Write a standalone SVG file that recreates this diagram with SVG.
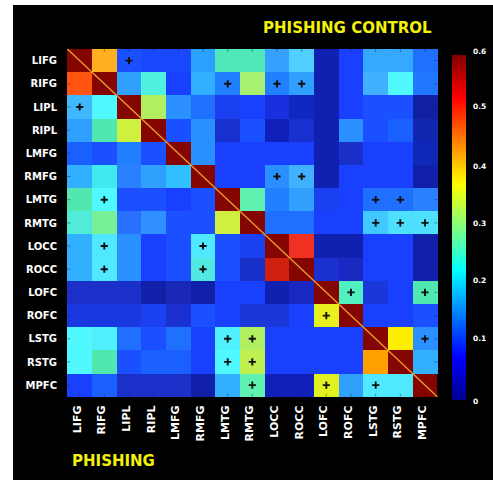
<svg xmlns="http://www.w3.org/2000/svg" xmlns:xlink="http://www.w3.org/1999/xlink" width="493" height="480" viewBox="0 0 493 480">
  <style>
    .lbl { font-family: "DejaVu Sans", "Liberation Sans", sans-serif; font-weight: bold; fill: #ffffff; }
    .row { font-size: 10px; text-anchor: end; }
    .col { font-size: 11px; text-anchor: end; }
    .cb  { font-size: 7.5px; }
    .title { font-family: "DejaVu Sans", "Liberation Sans", sans-serif; font-weight: bold; font-size: 15px; fill: #f2f20a; }
    .cells rect { shape-rendering: crispEdges; }
    .tick { stroke: #202020; stroke-width: 0.8; opacity: 0.55; }
  </style>
  <defs>
    <linearGradient id="jet" x1="0" y1="1" x2="0" y2="0">
      <stop offset="0" stop-color="#00008f"/>
      <stop offset="0.125" stop-color="#0000ff"/>
      <stop offset="0.375" stop-color="#00ffff"/>
      <stop offset="0.625" stop-color="#ffff00"/>
      <stop offset="0.875" stop-color="#ff0000"/>
      <stop offset="1" stop-color="#800000"/>
    </linearGradient>
    <path id="plus" d="M-3.6 0H3.6M0 -3.6V3.6" stroke="#101010" stroke-width="1.9" fill="none"/>
  </defs>

  <rect x="0" y="0" width="493" height="480" fill="#ffffff"/>
  <rect x="13" y="5" width="480" height="475" fill="#000000"/>

  <text class="title" x="263" y="33">PHISHING CONTROL</text>
  <text class="title" x="72" y="466">PHISHING</text>

  <!-- correlation matrix, one unit per cell -->
  <g id="matrix" class="cells" transform="translate(67.33,49) scale(24.667,23.18)">
    <!-- LIFG -->
    <rect x="0" y="0" width="1.02" height="1.02" fill="#850500"/>
    <rect x="1" y="0" width="1.02" height="1.02" fill="#ffb020"/>
    <rect x="2" y="0" width="1.02" height="1.02" fill="#1a50ff"/>
    <rect x="3" y="0" width="1.02" height="1.02" fill="#1a48ff"/>
    <rect x="4" y="0" width="1.02" height="1.02" fill="#1a48ff"/>
    <rect x="5" y="0" width="1.02" height="1.02" fill="#2aa0ff"/>
    <rect x="6" y="0" width="1.02" height="1.02" fill="#50e8b8"/>
    <rect x="7" y="0" width="1.02" height="1.02" fill="#50e8b8"/>
    <rect x="8" y="0" width="1.02" height="1.02" fill="#35a0ff"/>
    <rect x="9" y="0" width="1.02" height="1.02" fill="#50d0ff"/>
    <rect x="10" y="0" width="1.02" height="1.02" fill="#1020b0"/>
    <rect x="11" y="0" width="1.02" height="1.02" fill="#1a40ff"/>
    <rect x="12" y="0" width="1.02" height="1.02" fill="#35a8ff"/>
    <rect x="13" y="0" width="1.02" height="1.02" fill="#35a8ff"/>
    <rect x="14" y="0" width="1.02" height="1.02" fill="#2070ff"/>
    <!-- RIFG -->
    <rect x="0" y="1" width="1.02" height="1.02" fill="#ff5510"/>
    <rect x="1" y="1" width="1.02" height="1.02" fill="#850500"/>
    <rect x="2" y="1" width="1.02" height="1.02" fill="#30a0ff"/>
    <rect x="3" y="1" width="1.02" height="1.02" fill="#50f0e0"/>
    <rect x="4" y="1" width="1.02" height="1.02" fill="#1a40ff"/>
    <rect x="5" y="1" width="1.02" height="1.02" fill="#30b0ff"/>
    <rect x="6" y="1" width="1.02" height="1.02" fill="#2080ff"/>
    <rect x="7" y="1" width="1.02" height="1.02" fill="#a8f070"/>
    <rect x="8" y="1" width="1.02" height="1.02" fill="#2080ff"/>
    <rect x="9" y="1" width="1.02" height="1.02" fill="#30a0ff"/>
    <rect x="10" y="1" width="1.02" height="1.02" fill="#1020b0"/>
    <rect x="11" y="1" width="1.02" height="1.02" fill="#1a40ff"/>
    <rect x="12" y="1" width="1.02" height="1.02" fill="#40b0ff"/>
    <rect x="13" y="1" width="1.02" height="1.02" fill="#50f8ff"/>
    <rect x="14" y="1" width="1.02" height="1.02" fill="#2078ff"/>
    <!-- LIPL -->
    <rect x="0" y="2" width="1.02" height="1.02" fill="#40b8ff"/>
    <rect x="1" y="2" width="1.02" height="1.02" fill="#50f8ff"/>
    <rect x="2" y="2" width="1.02" height="1.02" fill="#850500"/>
    <rect x="3" y="2" width="1.02" height="1.02" fill="#b0f060"/>
    <rect x="4" y="2" width="1.02" height="1.02" fill="#2a90ff"/>
    <rect x="5" y="2" width="1.02" height="1.02" fill="#2070ff"/>
    <rect x="6" y="2" width="1.02" height="1.02" fill="#1a40f0"/>
    <rect x="7" y="2" width="1.02" height="1.02" fill="#1a40ff"/>
    <rect x="8" y="2" width="1.02" height="1.02" fill="#1a30e0"/>
    <rect x="9" y="2" width="1.02" height="1.02" fill="#1028c0"/>
    <rect x="10" y="2" width="1.02" height="1.02" fill="#1020b0"/>
    <rect x="11" y="2" width="1.02" height="1.02" fill="#1a40ff"/>
    <rect x="12" y="2" width="1.02" height="1.02" fill="#1a50ff"/>
    <rect x="13" y="2" width="1.02" height="1.02" fill="#1a50ff"/>
    <rect x="14" y="2" width="1.02" height="1.02" fill="#1020a0"/>
    <!-- RIPL -->
    <rect x="0" y="3" width="1.02" height="1.02" fill="#30a0ff"/>
    <rect x="1" y="3" width="1.02" height="1.02" fill="#50e8b0"/>
    <rect x="2" y="3" width="1.02" height="1.02" fill="#d0f040"/>
    <rect x="3" y="3" width="1.02" height="1.02" fill="#850500"/>
    <rect x="4" y="3" width="1.02" height="1.02" fill="#1a50ff"/>
    <rect x="5" y="3" width="1.02" height="1.02" fill="#2a90ff"/>
    <rect x="6" y="3" width="1.02" height="1.02" fill="#1830d0"/>
    <rect x="7" y="3" width="1.02" height="1.02" fill="#1a50ff"/>
    <rect x="8" y="3" width="1.02" height="1.02" fill="#1020b8"/>
    <rect x="9" y="3" width="1.02" height="1.02" fill="#1830d0"/>
    <rect x="10" y="3" width="1.02" height="1.02" fill="#1020b0"/>
    <rect x="11" y="3" width="1.02" height="1.02" fill="#2a90ff"/>
    <rect x="12" y="3" width="1.02" height="1.02" fill="#1a50ff"/>
    <rect x="13" y="3" width="1.02" height="1.02" fill="#1a60ff"/>
    <rect x="14" y="3" width="1.02" height="1.02" fill="#1028b0"/>
    <!-- LMFG -->
    <rect x="0" y="4" width="1.02" height="1.02" fill="#1a60ff"/>
    <rect x="1" y="4" width="1.02" height="1.02" fill="#1a50ff"/>
    <rect x="2" y="4" width="1.02" height="1.02" fill="#2080ff"/>
    <rect x="3" y="4" width="1.02" height="1.02" fill="#1a50ff"/>
    <rect x="4" y="4" width="1.02" height="1.02" fill="#850500"/>
    <rect x="5" y="4" width="1.02" height="1.02" fill="#2a90ff"/>
    <rect x="6" y="4" width="1.02" height="1.02" fill="#1a40ff"/>
    <rect x="7" y="4" width="1.02" height="1.02" fill="#1a40ff"/>
    <rect x="8" y="4" width="1.02" height="1.02" fill="#1a40ff"/>
    <rect x="9" y="4" width="1.02" height="1.02" fill="#1a40ff"/>
    <rect x="10" y="4" width="1.02" height="1.02" fill="#1020b0"/>
    <rect x="11" y="4" width="1.02" height="1.02" fill="#1830c8"/>
    <rect x="12" y="4" width="1.02" height="1.02" fill="#1a40ff"/>
    <rect x="13" y="4" width="1.02" height="1.02" fill="#1a40ff"/>
    <rect x="14" y="4" width="1.02" height="1.02" fill="#1028b8"/>
    <!-- RMFG -->
    <rect x="0" y="5" width="1.02" height="1.02" fill="#30b0ff"/>
    <rect x="1" y="5" width="1.02" height="1.02" fill="#40e8f0"/>
    <rect x="2" y="5" width="1.02" height="1.02" fill="#2a80ff"/>
    <rect x="3" y="5" width="1.02" height="1.02" fill="#30a0ff"/>
    <rect x="4" y="5" width="1.02" height="1.02" fill="#30c0ff"/>
    <rect x="5" y="5" width="1.02" height="1.02" fill="#850500"/>
    <rect x="6" y="5" width="1.02" height="1.02" fill="#1a40ff"/>
    <rect x="7" y="5" width="1.02" height="1.02" fill="#1a40ff"/>
    <rect x="8" y="5" width="1.02" height="1.02" fill="#2a90ff"/>
    <rect x="9" y="5" width="1.02" height="1.02" fill="#40b0ff"/>
    <rect x="10" y="5" width="1.02" height="1.02" fill="#1020b0"/>
    <rect x="11" y="5" width="1.02" height="1.02" fill="#1a40ff"/>
    <rect x="12" y="5" width="1.02" height="1.02" fill="#1a40ff"/>
    <rect x="13" y="5" width="1.02" height="1.02" fill="#1a40ff"/>
    <rect x="14" y="5" width="1.02" height="1.02" fill="#1020a8"/>
    <!-- LMTG -->
    <rect x="0" y="6" width="1.02" height="1.02" fill="#50e8b0"/>
    <rect x="1" y="6" width="1.02" height="1.02" fill="#50f8ff"/>
    <rect x="2" y="6" width="1.02" height="1.02" fill="#1a50ff"/>
    <rect x="3" y="6" width="1.02" height="1.02" fill="#1a50ff"/>
    <rect x="4" y="6" width="1.02" height="1.02" fill="#1a40ff"/>
    <rect x="5" y="6" width="1.02" height="1.02" fill="#1a50ff"/>
    <rect x="6" y="6" width="1.02" height="1.02" fill="#850500"/>
    <rect x="7" y="6" width="1.02" height="1.02" fill="#60f0b0"/>
    <rect x="8" y="6" width="1.02" height="1.02" fill="#2080ff"/>
    <rect x="9" y="6" width="1.02" height="1.02" fill="#30a0ff"/>
    <rect x="10" y="6" width="1.02" height="1.02" fill="#1a40f0"/>
    <rect x="11" y="6" width="1.02" height="1.02" fill="#1a40ff"/>
    <rect x="12" y="6" width="1.02" height="1.02" fill="#2070ff"/>
    <rect x="13" y="6" width="1.02" height="1.02" fill="#2070ff"/>
    <rect x="14" y="6" width="1.02" height="1.02" fill="#2a80ff"/>
    <!-- RMTG -->
    <rect x="0" y="7" width="1.02" height="1.02" fill="#50ecd8"/>
    <rect x="1" y="7" width="1.02" height="1.02" fill="#78f098"/>
    <rect x="2" y="7" width="1.02" height="1.02" fill="#2a70ff"/>
    <rect x="3" y="7" width="1.02" height="1.02" fill="#3090ff"/>
    <rect x="4" y="7" width="1.02" height="1.02" fill="#1a50ff"/>
    <rect x="5" y="7" width="1.02" height="1.02" fill="#1a50ff"/>
    <rect x="6" y="7" width="1.02" height="1.02" fill="#d0f040"/>
    <rect x="7" y="7" width="1.02" height="1.02" fill="#850500"/>
    <rect x="8" y="7" width="1.02" height="1.02" fill="#2070ff"/>
    <rect x="9" y="7" width="1.02" height="1.02" fill="#2070ff"/>
    <rect x="10" y="7" width="1.02" height="1.02" fill="#1a40ff"/>
    <rect x="11" y="7" width="1.02" height="1.02" fill="#1a40ff"/>
    <rect x="12" y="7" width="1.02" height="1.02" fill="#40c8ff"/>
    <rect x="13" y="7" width="1.02" height="1.02" fill="#50e0ff"/>
    <rect x="14" y="7" width="1.02" height="1.02" fill="#50e0ff"/>
    <!-- LOCC -->
    <rect x="0" y="8" width="1.02" height="1.02" fill="#30b0ff"/>
    <rect x="1" y="8" width="1.02" height="1.02" fill="#50e8ff"/>
    <rect x="2" y="8" width="1.02" height="1.02" fill="#2a90ff"/>
    <rect x="3" y="8" width="1.02" height="1.02" fill="#1a40ff"/>
    <rect x="4" y="8" width="1.02" height="1.02" fill="#1a50ff"/>
    <rect x="5" y="8" width="1.02" height="1.02" fill="#50e8ff"/>
    <rect x="6" y="8" width="1.02" height="1.02" fill="#1a50ff"/>
    <rect x="7" y="8" width="1.02" height="1.02" fill="#1a40f0"/>
    <rect x="8" y="8" width="1.02" height="1.02" fill="#850500"/>
    <rect x="9" y="8" width="1.02" height="1.02" fill="#f03020"/>
    <rect x="10" y="8" width="1.02" height="1.02" fill="#1020b0"/>
    <rect x="11" y="8" width="1.02" height="1.02" fill="#1020b0"/>
    <rect x="12" y="8" width="1.02" height="1.02" fill="#1a40ff"/>
    <rect x="13" y="8" width="1.02" height="1.02" fill="#1a40ff"/>
    <rect x="14" y="8" width="1.02" height="1.02" fill="#1020a8"/>
    <!-- ROCC -->
    <rect x="0" y="9" width="1.02" height="1.02" fill="#30b0ff"/>
    <rect x="1" y="9" width="1.02" height="1.02" fill="#50e8ff"/>
    <rect x="2" y="9" width="1.02" height="1.02" fill="#2a90ff"/>
    <rect x="3" y="9" width="1.02" height="1.02" fill="#1a40ff"/>
    <rect x="4" y="9" width="1.02" height="1.02" fill="#1a50ff"/>
    <rect x="5" y="9" width="1.02" height="1.02" fill="#50e8e0"/>
    <rect x="6" y="9" width="1.02" height="1.02" fill="#1a50ff"/>
    <rect x="7" y="9" width="1.02" height="1.02" fill="#1830c8"/>
    <rect x="8" y="9" width="1.02" height="1.02" fill="#d02010"/>
    <rect x="9" y="9" width="1.02" height="1.02" fill="#850500"/>
    <rect x="10" y="9" width="1.02" height="1.02" fill="#1a30d0"/>
    <rect x="11" y="9" width="1.02" height="1.02" fill="#1828c0"/>
    <rect x="12" y="9" width="1.02" height="1.02" fill="#1a40ff"/>
    <rect x="13" y="9" width="1.02" height="1.02" fill="#1a40ff"/>
    <rect x="14" y="9" width="1.02" height="1.02" fill="#1020a8"/>
    <!-- LOFC -->
    <rect x="0" y="10" width="1.02" height="1.02" fill="#1a30c8"/>
    <rect x="1" y="10" width="1.02" height="1.02" fill="#1a30c8"/>
    <rect x="2" y="10" width="1.02" height="1.02" fill="#1a30c8"/>
    <rect x="3" y="10" width="1.02" height="1.02" fill="#1020a8"/>
    <rect x="4" y="10" width="1.02" height="1.02" fill="#1a28b8"/>
    <rect x="5" y="10" width="1.02" height="1.02" fill="#1020a8"/>
    <rect x="6" y="10" width="1.02" height="1.02" fill="#1a40ff"/>
    <rect x="7" y="10" width="1.02" height="1.02" fill="#1a40ff"/>
    <rect x="8" y="10" width="1.02" height="1.02" fill="#1020b0"/>
    <rect x="9" y="10" width="1.02" height="1.02" fill="#1828c0"/>
    <rect x="10" y="10" width="1.02" height="1.02" fill="#850500"/>
    <rect x="11" y="10" width="1.02" height="1.02" fill="#50f0c0"/>
    <rect x="12" y="10" width="1.02" height="1.02" fill="#1a38d8"/>
    <rect x="13" y="10" width="1.02" height="1.02" fill="#1a40ff"/>
    <rect x="14" y="10" width="1.02" height="1.02" fill="#50e8b0"/>
    <!-- ROFC -->
    <rect x="0" y="11" width="1.02" height="1.02" fill="#1a38e0"/>
    <rect x="1" y="11" width="1.02" height="1.02" fill="#1a38e0"/>
    <rect x="2" y="11" width="1.02" height="1.02" fill="#1a38e0"/>
    <rect x="3" y="11" width="1.02" height="1.02" fill="#1a40f0"/>
    <rect x="4" y="11" width="1.02" height="1.02" fill="#1a30d0"/>
    <rect x="5" y="11" width="1.02" height="1.02" fill="#1a50ff"/>
    <rect x="6" y="11" width="1.02" height="1.02" fill="#1a40ff"/>
    <rect x="7" y="11" width="1.02" height="1.02" fill="#1a38d8"/>
    <rect x="8" y="11" width="1.02" height="1.02" fill="#1a38d8"/>
    <rect x="9" y="11" width="1.02" height="1.02" fill="#1a40ff"/>
    <rect x="10" y="11" width="1.02" height="1.02" fill="#e8f020"/>
    <rect x="11" y="11" width="1.02" height="1.02" fill="#850500"/>
    <rect x="12" y="11" width="1.02" height="1.02" fill="#1a40ff"/>
    <rect x="13" y="11" width="1.02" height="1.02" fill="#1a40ff"/>
    <rect x="14" y="11" width="1.02" height="1.02" fill="#1a50ff"/>
    <!-- LSTG -->
    <rect x="0" y="12" width="1.02" height="1.02" fill="#50f8ff"/>
    <rect x="1" y="12" width="1.02" height="1.02" fill="#50f0ff"/>
    <rect x="2" y="12" width="1.02" height="1.02" fill="#2070ff"/>
    <rect x="3" y="12" width="1.02" height="1.02" fill="#1a50ff"/>
    <rect x="4" y="12" width="1.02" height="1.02" fill="#2070ff"/>
    <rect x="5" y="12" width="1.02" height="1.02" fill="#1a40ff"/>
    <rect x="6" y="12" width="1.02" height="1.02" fill="#50f0ff"/>
    <rect x="7" y="12" width="1.02" height="1.02" fill="#b0f060"/>
    <rect x="8" y="12" width="1.02" height="1.02" fill="#1a40ff"/>
    <rect x="9" y="12" width="1.02" height="1.02" fill="#1a40ff"/>
    <rect x="10" y="12" width="1.02" height="1.02" fill="#1a40ff"/>
    <rect x="11" y="12" width="1.02" height="1.02" fill="#1a40ff"/>
    <rect x="12" y="12" width="1.02" height="1.02" fill="#850500"/>
    <rect x="13" y="12" width="1.02" height="1.02" fill="#ffee00"/>
    <rect x="14" y="12" width="1.02" height="1.02" fill="#2a90ff"/>
    <!-- RSTG -->
    <rect x="0" y="13" width="1.02" height="1.02" fill="#50f8ff"/>
    <rect x="1" y="13" width="1.02" height="1.02" fill="#50e8b0"/>
    <rect x="2" y="13" width="1.02" height="1.02" fill="#1a50ff"/>
    <rect x="3" y="13" width="1.02" height="1.02" fill="#1a60ff"/>
    <rect x="4" y="13" width="1.02" height="1.02" fill="#1a60ff"/>
    <rect x="5" y="13" width="1.02" height="1.02" fill="#1a40ff"/>
    <rect x="6" y="13" width="1.02" height="1.02" fill="#50f8ff"/>
    <rect x="7" y="13" width="1.02" height="1.02" fill="#c0f050"/>
    <rect x="8" y="13" width="1.02" height="1.02" fill="#1a40ff"/>
    <rect x="9" y="13" width="1.02" height="1.02" fill="#1a40ff"/>
    <rect x="10" y="13" width="1.02" height="1.02" fill="#1a40ff"/>
    <rect x="11" y="13" width="1.02" height="1.02" fill="#1a40ff"/>
    <rect x="12" y="13" width="1.02" height="1.02" fill="#ffa000"/>
    <rect x="13" y="13" width="1.02" height="1.02" fill="#850500"/>
    <rect x="14" y="13" width="1.02" height="1.02" fill="#30b0ff"/>
    <!-- MPFC -->
    <rect x="0" y="14" width="1.02" height="1" fill="#1a40ff"/>
    <rect x="1" y="14" width="1.02" height="1" fill="#1a60ff"/>
    <rect x="2" y="14" width="1.02" height="1" fill="#1a30c8"/>
    <rect x="3" y="14" width="1.02" height="1" fill="#1a30c8"/>
    <rect x="4" y="14" width="1.02" height="1" fill="#1a30c8"/>
    <rect x="5" y="14" width="1.02" height="1" fill="#1020a8"/>
    <rect x="6" y="14" width="1.02" height="1" fill="#30b0ff"/>
    <rect x="7" y="14" width="1.02" height="1" fill="#60f0b0"/>
    <rect x="8" y="14" width="1.02" height="1" fill="#1020b8"/>
    <rect x="9" y="14" width="1.02" height="1" fill="#1020b8"/>
    <rect x="10" y="14" width="1.02" height="1" fill="#e0f020"/>
    <rect x="11" y="14" width="1.02" height="1" fill="#30a0ff"/>
    <rect x="12" y="14" width="1.02" height="1" fill="#50e8ff"/>
    <rect x="13" y="14" width="1.02" height="1" fill="#50e8ff"/>
    <rect x="14" y="14" width="1" height="1" fill="#850500"/>
  </g>

  <!-- axis ticks at cell centres -->
  <g id="ticks" class="tick">
    <path d="M79.7 49v3M104.3 49v3M129 49v3M153.7 49v3M178.3 49v3M203 49v3M227.7 49v3M252.3 49v3M277 49v3M301.7 49v3M326.3 49v3M351 49v3M375.7 49v3M400.3 49v3M425 49v3"/>
    <path d="M79.7 396.7v-3M104.3 396.7v-3M129 396.7v-3M153.7 396.7v-3M178.3 396.7v-3M203 396.7v-3M227.7 396.7v-3M252.3 396.7v-3M277 396.7v-3M301.7 396.7v-3M326.3 396.7v-3M351 396.7v-3M375.7 396.7v-3M400.3 396.7v-3M425 396.7v-3"/>
    <path d="M67.3 60.6h3M67.3 83.8h3M67.3 107h3M67.3 130.1h3M67.3 153.3h3M67.3 176.5h3M67.3 199.7h3M67.3 222.9h3M67.3 246h3M67.3 269.2h3M67.3 292.4h3M67.3 315.6h3M67.3 338.8h3M67.3 361.9h3M67.3 385.1h3"/>
    <path d="M437.3 60.6h-3M437.3 83.8h-3M437.3 107h-3M437.3 130.1h-3M437.3 153.3h-3M437.3 176.5h-3M437.3 199.7h-3M437.3 222.9h-3M437.3 246h-3M437.3 269.2h-3M437.3 292.4h-3M437.3 315.6h-3M437.3 338.8h-3M437.3 361.9h-3M437.3 385.1h-3"/>
  </g>

  <!-- diagonal -->
  <line id="diagonal" x1="67.33" y1="49" x2="437.33" y2="396.7" stroke="#e8a030" stroke-width="1.3"/>

  <!-- significance markers -->
  <g id="markers">
    <use xlink:href="#plus" x="129" y="60.6"/>
    <use xlink:href="#plus" x="227.7" y="83.8"/>
    <use xlink:href="#plus" x="277" y="83.8"/>
    <use xlink:href="#plus" x="301.7" y="83.8"/>
    <use xlink:href="#plus" x="79.7" y="107"/>
    <use xlink:href="#plus" x="277" y="176.5"/>
    <use xlink:href="#plus" x="301.7" y="176.5"/>
    <use xlink:href="#plus" x="104.3" y="199.7"/>
    <use xlink:href="#plus" x="375.7" y="199.7"/>
    <use xlink:href="#plus" x="400.3" y="199.7"/>
    <use xlink:href="#plus" x="375.7" y="222.9"/>
    <use xlink:href="#plus" x="400.3" y="222.9"/>
    <use xlink:href="#plus" x="425" y="222.9"/>
    <use xlink:href="#plus" x="104.3" y="246"/>
    <use xlink:href="#plus" x="203" y="246"/>
    <use xlink:href="#plus" x="104.3" y="269.2"/>
    <use xlink:href="#plus" x="203" y="269.2"/>
    <use xlink:href="#plus" x="351" y="292.4"/>
    <use xlink:href="#plus" x="425" y="292.4"/>
    <use xlink:href="#plus" x="326.3" y="315.6"/>
    <use xlink:href="#plus" x="227.7" y="338.8"/>
    <use xlink:href="#plus" x="252.3" y="338.8"/>
    <use xlink:href="#plus" x="425" y="338.8"/>
    <use xlink:href="#plus" x="227.7" y="361.9"/>
    <use xlink:href="#plus" x="252.3" y="361.9"/>
    <use xlink:href="#plus" x="252.3" y="385.1"/>
    <use xlink:href="#plus" x="326.3" y="385.1"/>
    <use xlink:href="#plus" x="375.7" y="385.1"/>
  </g>

  <!-- row labels -->
  <g id="row-labels" class="lbl row">
    <text x="57" y="64.2">LIFG</text>
    <text x="57" y="87.4">RIFG</text>
    <text x="57" y="110.6">LIPL</text>
    <text x="57" y="133.7">RIPL</text>
    <text x="57" y="156.9">LMFG</text>
    <text x="57" y="180.1">RMFG</text>
    <text x="57" y="203.3">LMTG</text>
    <text x="57" y="226.5">RMTG</text>
    <text x="57" y="249.6">LOCC</text>
    <text x="57" y="272.8">ROCC</text>
    <text x="57" y="296">LOFC</text>
    <text x="57" y="319.2">ROFC</text>
    <text x="57" y="342.4">LSTG</text>
    <text x="57" y="365.5">RSTG</text>
    <text x="57" y="388.7">MPFC</text>
  </g>

  <!-- column labels -->
  <g id="column-labels" class="lbl col">
    <text transform="translate(80.7,405.5) rotate(-90)">LIFG</text>
    <text transform="translate(105.3,405.5) rotate(-90)">RIFG</text>
    <text transform="translate(130,405.5) rotate(-90)">LIPL</text>
    <text transform="translate(154.7,405.5) rotate(-90)">RIPL</text>
    <text transform="translate(179.3,405.5) rotate(-90)">LMFG</text>
    <text transform="translate(204,405.5) rotate(-90)">RMFG</text>
    <text transform="translate(228.7,405.5) rotate(-90)">LMTG</text>
    <text transform="translate(253.3,405.5) rotate(-90)">RMTG</text>
    <text transform="translate(278,405.5) rotate(-90)">LOCC</text>
    <text transform="translate(302.7,405.5) rotate(-90)">ROCC</text>
    <text transform="translate(327.3,405.5) rotate(-90)">LOFC</text>
    <text transform="translate(352,405.5) rotate(-90)">ROFC</text>
    <text transform="translate(376.7,405.5) rotate(-90)">LSTG</text>
    <text transform="translate(401.3,405.5) rotate(-90)">RSTG</text>
    <text transform="translate(426,405.5) rotate(-90)">MPFC</text>
  </g>

  <!-- colour bar -->
  <g id="colorbar">
    <rect x="452" y="55" width="14" height="345" fill="url(#jet)"/>
    <g class="lbl cb">
      <text x="473" y="54.4">0.6</text>
      <text x="473" y="109.4">0.5</text>
      <text x="473" y="168.7">0.4</text>
      <text x="473" y="226.4">0.3</text>
      <text x="473" y="282.7">0.2</text>
      <text x="473" y="341">0.1</text>
      <text x="473" y="404.4">0</text>
    </g>
  </g>
</svg>
